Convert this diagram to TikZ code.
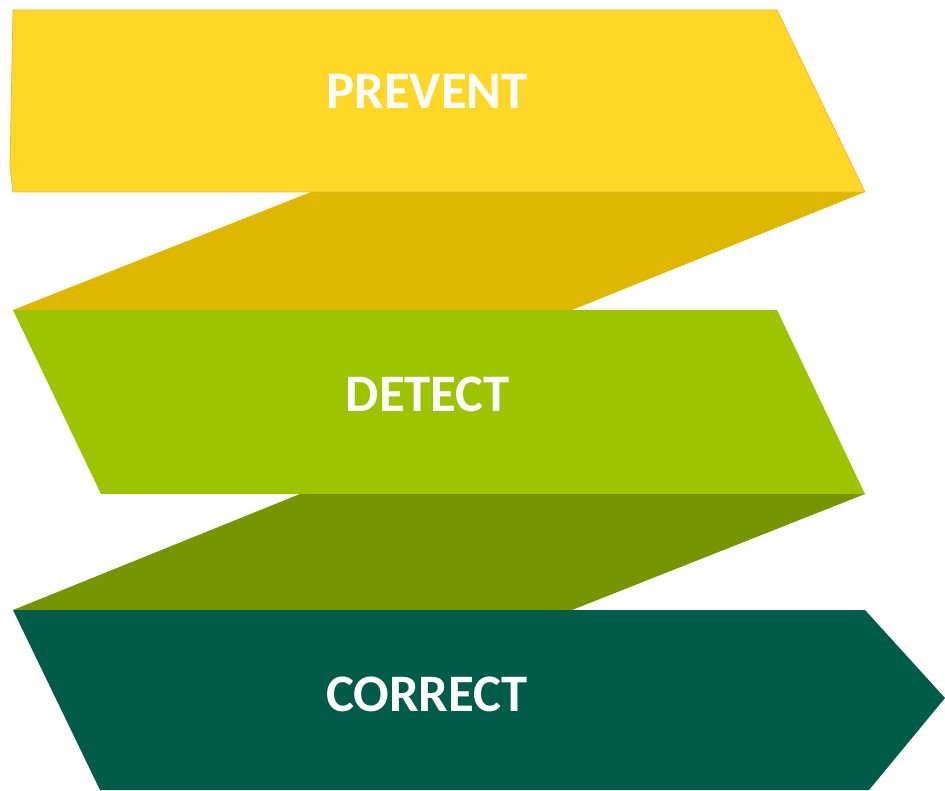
\documentclass[tikz,border=0pt]{standalone}
\usepackage{fontspec}
\setmainfont{Carlito}
\usepackage{tikz}
\usetikzlibrary{positioning}
\definecolor{preventyellow}{RGB}{255,215,38}
\definecolor{preventedge}{RGB}{245,176,65}
\definecolor{foldgold}{RGB}{222,184,0}
\definecolor{detectgreen}{RGB}{158,195,0}
\definecolor{foldolive}{RGB}{119,149,0}
\definecolor{correctgreen}{RGB}{0,92,72}

\begin{document}
\begin{tikzpicture}[
    x=0.02cm, y=-0.02cm,
    band/.style={line join=miter},
    label/.style={text=white, font=\fontsize{30}{34}\selectfont\bfseries, anchor=center},
]
\useasboundingbox (0,0) rectangle (945,790);

% folds behind the bands
\fill[foldgold] (311,192) -- (865,192) -- (572,310) -- (13,310) -- cycle;
\fill[foldolive] (300,494) -- (865,494) -- (572,610) -- (13,610) -- cycle;

% bands
\filldraw[band, fill=preventyellow, draw=preventedge, line width=0.4pt]
    (13,10) -- (777,10) -- (865,192) -- (13,192) -- (10,167) -- cycle;
\fill[band, detectgreen] (13,310) -- (777,310) -- (865,494) -- (101,494) -- cycle;
\fill[band, correctgreen] (13,610) -- (865,610) -- (945,698) -- (869,790) -- (100,790) -- cycle;

\node[label] (prevent) at (427,91) {PREVENT};
\node[label] (detect) at (428,394) {DETECT};
\node[label] (correct) at (427,694) {CORRECT};

\end{tikzpicture}
\end{document}
